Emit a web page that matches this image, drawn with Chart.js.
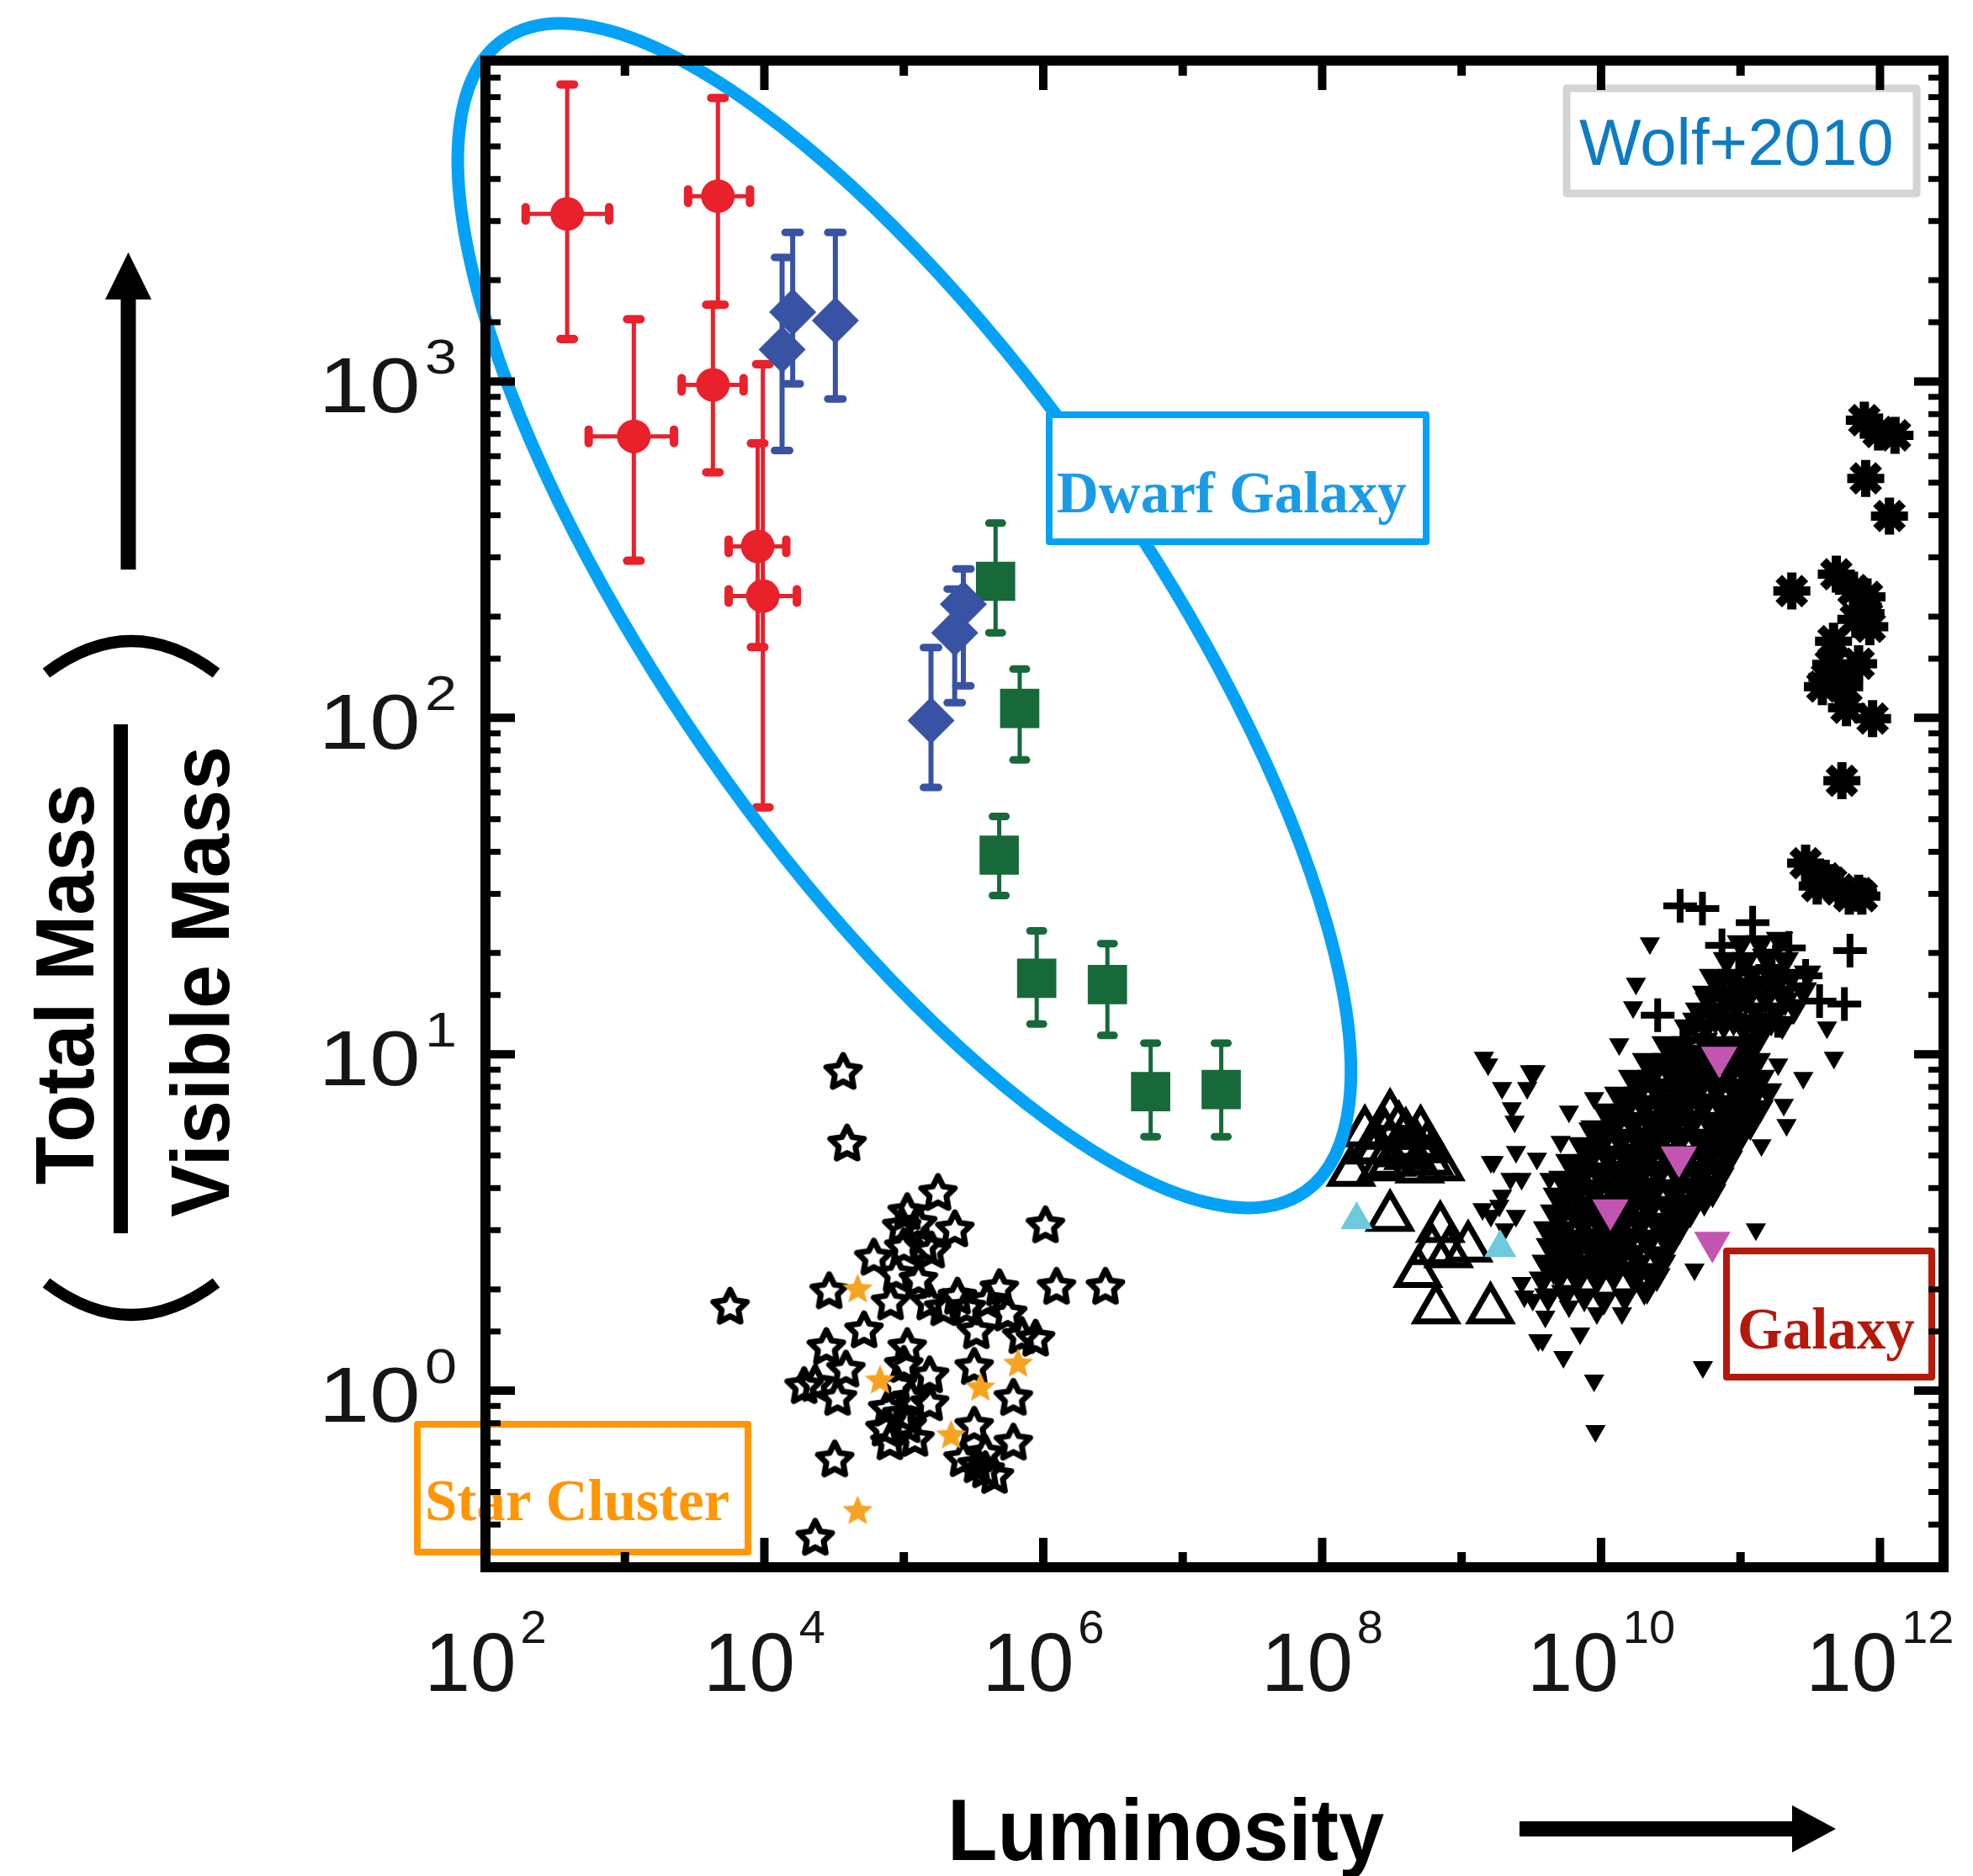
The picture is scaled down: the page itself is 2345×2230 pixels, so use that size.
<!DOCTYPE html>
<html>
<head>
<meta charset="utf-8">
<title>Total / visible mass vs luminosity</title>
<script src="https://cdn.jsdelivr.net/npm/chart.js@4.4.1/dist/chart.umd.min.js"></script>
<style>
  html, body { margin: 0; padding: 0; background: #fff; }
  #wrap { width: 2345px; height: 2230px; position: relative; }
</style>
</head>
<body>
<div id="wrap"><canvas id="massChart"></canvas></div>
<script>
// every value below is log10: [log L, log(M_total / M_visible)]
const xTickExps = [2, 4, 6, 8, 10, 12];
const xMinorExps = [3, 5, 7, 9, 11];
const yTickExps = [0, 1, 2, 3];
const xRangeExp = [2, 12.456];
const yRangeExp = [-0.525, 3.954];

// ultra-faint dwarfs: [logL, logR, logR lo, logR hi, logL lo, logL hi]
const redDwarfs = [
  [2.586, 3.498, 3.126, 3.883, 2.288, 2.887],
  [3.667, 3.551, 3.228, 3.843, 3.453, 3.897],
  [3.064, 2.837, 2.467, 3.185, 2.740, 3.352],
  [3.631, 2.990, 2.730, 3.228, 3.407, 3.851],
  [3.952, 2.510, 2.210, 2.816, 3.744, 4.157],
  [3.989, 2.362, 1.734, 3.051, 3.744, 4.233]
];
// [logL, logR, logR lo, logR hi]
const blueDwarfs = [
  [4.203, 3.206, 2.993, 3.443],
  [4.127, 3.095, 2.795, 3.369],
  [4.509, 3.181, 2.948, 3.443],
  [5.427, 2.338, 2.095, 2.443],
  [5.365, 2.253, 2.045, 2.383],
  [5.195, 1.992, 1.793, 2.209]
];
const greenDwarfs = [
  [5.658, 2.406, 2.253, 2.579],
  [5.831, 2.028, 1.875, 2.145],
  [5.684, 1.592, 1.472, 1.707],
  [5.953, 1.226, 1.090, 1.367],
  [6.460, 1.207, 1.056, 1.329],
  [6.770, 0.889, 0.755, 1.033],
  [7.276, 0.895, 0.755, 1.033]
];

const clusterStars = [
  [5.245, 0.591], [6.016, 0.495], [3.754, 0.253], [6.095, 0.312], [6.446, 0.312], [5.366, 0.483],
  [4.985, 0.491], [4.945, 0.349], [4.785, 0.399], [4.465, 0.299], [4.905, 0.266], [5.185, 0.266],
  [5.385, 0.283], [5.685, 0.308], [5.745, 0.233], [4.715, 0.183], [4.445, 0.133], [5.945, 0.158],
  [4.365, 0.024], [4.525, -0.018], [4.585, 0.066], [5.025, 0.133], [5.185, 0.049], [4.985, -0.068],
  [4.865, -0.109], [5.185, -0.034], [5.505, 0.074], [5.786, -0.018], [5.786, -0.151], [5.505, -0.101],
  [5.525, -0.218], [4.505, -0.201], [4.365, -0.434], [5.846, 0.166], [5.105, 0.333], [5.285, 0.249],
  [5.585, -0.184], [4.565, 0.951], [4.593, 0.738], [5.025, -0.099], [4.885, -0.050], [5.025, 0.534],
  [5.145, 0.434], [4.285, 0.017], [5.585, -0.233], [5.425, -0.200],
  [4.950, 0.020], [5.050, -0.020], [4.900, -0.150], [5.080, -0.140], [5.000, 0.080], [5.100, 0.500],
  [5.200, 0.420], [5.000, 0.430], [5.450, 0.250], [5.600, 0.270], [5.520, 0.180], [5.650, -0.250]
];
const clusterStarsOrange = [
  [4.669, 0.305], [4.829, 0.034], [5.549, 0.013], [5.819, 0.084], [5.339, -0.129], [4.669, -0.354]
];

const openTriangles = [
  [8.487, 0.816], [8.347, 0.716], [8.207, 0.650], [8.567, 0.708], [8.767, 0.683], [8.667, 0.733],
  [8.427, 0.666], [8.847, 0.666], [8.487, 0.516], [8.847, 0.483], [9.047, 0.425], [8.787, 0.417],
  [8.687, 0.349], [8.817, 0.241], [9.207, 0.241], [8.907, 0.408], [8.306, 0.767], [8.706, 0.767],
  [8.550, 0.780], [8.620, 0.700], [8.400, 0.720], [8.750, 0.720], [8.500, 0.680], [8.700, 0.660],
  [8.600, 0.760], [8.450, 0.760]
];
const cyanTriangles = [[8.247, 0.508], [9.277, 0.425]];
const magentaTriangles = [[10.847, 0.991], [10.558, 0.695], [10.067, 0.537], [10.798, 0.441]];

const crossPts = [
  [10.567, 1.441], [10.727, 1.433], [11.785, 1.308], [11.745, 1.149], [10.406, 1.116], [11.087, 1.391],
  [10.867, 1.324], [11.267, 1.099], [11.227, 1.258], [11.467, 1.233], [10.587, 1.041], [10.987, 1.241],
  [11.347, 1.316], [11.567, 1.158]
];
const asteriskPts = [
  [11.888, 2.885], [12.108, 2.840], [11.898, 2.712], [12.068, 2.600], [11.368, 2.377], [11.687, 2.427],
  [11.907, 2.360], [11.927, 2.271], [11.647, 2.159], [11.747, 2.093], [11.947, 1.998], [11.727, 1.813],
  [11.467, 1.568], [11.707, 1.490], [11.847, 1.479], [11.607, 1.523], [11.827, 2.293], [11.587, 2.093],
  [11.810, 2.380], [11.667, 2.228], [11.847, 2.161], [11.870, 1.470], [11.550, 1.500], [11.780, 1.470],
  [11.650, 1.510], [11.760, 2.030], [11.620, 2.120], [11.900, 2.310], [11.990, 2.850]
];

// galaxies, small filled triangles away from the crowded band
const galaxyOutliers = [
  [9.19, 0.97], [9.29, 0.90], [9.47, 0.90], [9.53, 0.95], [9.38, 0.80], [9.77, 0.83], [9.95, 0.87],
  [9.21, 0.68], [9.39, 0.71], [9.54, 0.69], [9.71, 0.74], [9.35, 0.63], [9.43, 0.63], [9.29, 0.58],
  [9.21, 0.52], [9.39, 0.52], [9.31, 0.48], [9.75, 0.48], [9.43, 0.32], [9.51, 0.27], [9.75, 0.28],
  [9.77, 0.25], [9.97, 0.23], [10.15, 0.23], [9.55, 0.15], [9.85, 0.17], [9.73, 0.10], [9.95, 0.03],
  [10.33, 0.29], [10.67, 0.36], [10.73, 0.07], [9.15, 0.54], [9.27, 0.55], [9.63, 0.63], [9.91, 0.78],
  [9.96, -0.12], [9.58, 0.15], [9.45, 0.28], [9.60, 0.22], [10.35, 1.33], [10.25, 1.21], [10.23, 1.14],
  [10.13, 1.03], [9.51, 0.94], [11.67, 0.99], [11.62, 1.08], [11.27, 0.97], [11.45, 0.93], [11.31, 0.85],
  [11.33, 0.79], [11.15, 0.73], [11.11, 0.48], [11.13, 1.06], [9.16, 0.99], [9.49, 0.95], [9.36, 0.84],
  [9.23, 0.68]
];
// the same kind of galaxies where they pile up into a solid band
const galaxyCore = [
  [9.62, 0.28], [9.74, 0.29], [9.88, 0.28], [10.02, 0.27], [10.17, 0.28], [10.31, 0.30],
  [9.58, 0.33], [9.70, 0.34], [9.83, 0.33], [9.97, 0.33], [10.09, 0.34], [10.24, 0.33], [10.40, 0.34],
  [9.60, 0.38], [9.73, 0.39], [9.86, 0.38], [10.00, 0.38], [10.13, 0.39], [10.27, 0.38], [10.44, 0.38],
  [9.63, 0.43], [9.76, 0.43], [9.90, 0.44], [10.03, 0.43], [10.18, 0.43], [10.33, 0.44], [10.49, 0.43],
  [9.61, 0.48], [9.74, 0.48], [9.87, 0.49], [10.01, 0.48], [10.14, 0.48], [10.28, 0.49], [10.42, 0.48], [10.56, 0.48],
  [9.66, 0.53], [9.80, 0.53], [9.93, 0.54], [10.06, 0.53], [10.20, 0.53], [10.35, 0.54], [10.50, 0.53], [10.64, 0.53],
  [9.68, 0.58], [9.82, 0.58], [9.96, 0.59], [10.10, 0.58], [10.24, 0.58], [10.38, 0.59], [10.53, 0.58], [10.69, 0.58], [10.80, 0.59],
  [9.72, 0.63], [9.86, 0.63], [10.00, 0.64], [10.13, 0.63], [10.27, 0.63], [10.41, 0.64], [10.56, 0.63], [10.71, 0.63], [10.86, 0.64],
  [9.77, 0.68], [9.91, 0.68], [10.05, 0.69], [10.19, 0.68], [10.33, 0.68], [10.47, 0.69], [10.61, 0.68], [10.76, 0.68], [10.92, 0.69],
  [9.86, 0.73], [10.00, 0.73], [10.14, 0.74], [10.28, 0.73], [10.42, 0.73], [10.56, 0.74], [10.71, 0.73], [10.85, 0.73], [10.98, 0.74],
  [9.95, 0.78], [10.09, 0.78], [10.23, 0.79], [10.37, 0.78], [10.51, 0.78], [10.65, 0.79], [10.80, 0.78], [10.94, 0.78], [11.07, 0.79],
  [10.03, 0.83], [10.17, 0.83], [10.31, 0.84], [10.45, 0.83], [10.59, 0.83], [10.73, 0.84], [10.88, 0.83], [11.02, 0.83], [11.14, 0.84],
  [10.12, 0.88], [10.26, 0.88], [10.40, 0.89], [10.54, 0.88], [10.68, 0.88], [10.83, 0.89], [10.97, 0.88], [11.10, 0.88], [11.20, 0.89],
  [10.22, 0.93], [10.36, 0.93], [10.50, 0.94], [10.64, 0.93], [10.78, 0.93], [10.92, 0.94], [11.05, 0.93], [11.15, 0.93],
  [10.32, 0.98], [10.46, 0.98], [10.60, 0.99], [10.74, 0.98], [10.88, 0.98], [11.01, 0.99], [11.12, 0.98],
  [10.46, 1.03], [10.60, 1.03], [10.74, 1.04], [10.87, 1.03], [11.00, 1.03], [11.12, 1.04],
  [10.62, 1.08], [10.75, 1.08], [10.88, 1.09], [11.02, 1.08], [11.16, 1.08], [11.30, 1.09],
  [10.70, 1.13], [10.83, 1.13], [10.97, 1.14], [11.11, 1.13], [11.25, 1.13], [11.39, 1.14],
  [10.75, 1.18], [10.89, 1.18], [11.03, 1.19], [11.17, 1.18], [11.31, 1.18], [11.45, 1.19],
  [10.80, 1.23], [10.94, 1.23], [11.08, 1.24], [11.22, 1.23], [11.36, 1.23], [11.48, 1.24],
  [10.90, 1.28], [11.04, 1.28], [11.18, 1.29], [11.32, 1.28], [11.00, 1.33], [11.14, 1.33], [11.28, 1.34],
  [9.66, 0.36], [9.80, 0.355], [9.93, 0.36], [10.07, 0.365], [10.20, 0.36], [10.34, 0.355],
  [9.67, 0.41], [9.81, 0.405], [9.95, 0.41], [10.10, 0.415], [10.24, 0.41], [10.40, 0.405],
  [9.68, 0.46], [9.82, 0.455], [9.95, 0.46], [10.08, 0.465], [10.22, 0.46], [10.36, 0.455], [10.50, 0.46],
  [9.70, 0.51], [9.86, 0.505], [10.00, 0.51], [10.13, 0.515], [10.28, 0.51], [10.43, 0.505], [10.58, 0.51],
  [9.73, 0.56], [9.88, 0.555], [10.03, 0.56], [10.17, 0.565], [10.31, 0.56], [10.46, 0.555], [10.61, 0.56], [10.74, 0.565],
  [9.78, 0.61], [9.92, 0.605], [10.06, 0.61], [10.20, 0.615], [10.34, 0.61], [10.49, 0.605], [10.64, 0.61], [10.79, 0.615],
  [9.83, 0.66], [9.97, 0.655], [10.12, 0.66], [10.26, 0.665], [10.40, 0.66], [10.54, 0.655], [10.69, 0.66], [10.84, 0.665],
  [9.92, 0.71], [10.07, 0.705], [10.21, 0.71], [10.35, 0.715], [10.49, 0.71], [10.64, 0.705], [10.78, 0.71], [10.92, 0.715],
  [10.02, 0.76], [10.16, 0.755], [10.30, 0.76], [10.44, 0.765], [10.58, 0.76], [10.72, 0.755], [10.87, 0.76], [11.01, 0.765],
  [10.10, 0.81], [10.24, 0.805], [10.38, 0.81], [10.52, 0.815], [10.66, 0.81], [10.80, 0.805], [10.95, 0.81], [11.08, 0.815],
  [10.19, 0.86], [10.33, 0.855], [10.47, 0.86], [10.61, 0.865], [10.76, 0.86], [10.90, 0.855], [11.04, 0.86],
  [10.29, 0.91], [10.43, 0.905], [10.57, 0.91], [10.71, 0.915], [10.85, 0.91], [10.99, 0.905], [11.10, 0.91],
  [10.39, 0.96], [10.53, 0.955], [10.67, 0.96], [10.81, 0.965], [10.95, 0.96], [11.07, 0.955],
  [10.53, 1.01], [10.67, 1.005], [10.81, 1.01], [10.94, 1.015], [11.06, 1.01],
  [10.68, 1.10], [10.82, 1.105], [10.95, 1.10], [11.09, 1.095], [11.22, 1.10],
  [10.77, 1.16], [10.90, 1.155], [11.04, 1.16], [11.18, 1.165], [11.32, 1.16],
  [10.85, 1.21], [10.99, 1.205], [11.13, 1.21], [11.27, 1.215]
];

// ---------------------------------------------------------------
// styling
// ---------------------------------------------------------------
const SANS = '"Liberation Sans", Arial, sans-serif';
const SERIF = '"Liberation Serif", "Times New Roman", serif';

const ring = { centerExp: [5.004, 2.304], rx: 834, ry: 286, angle: 55.2, width: 15, color: '#03a2f6' };

const noteBoxes = [
  { text: 'Wolf+2010', box: [1862, 105, 2278, 230], border: '#d4d4d4', lw: 9, font: '78px ' + SANS, color: '#0d7cc3', tx: 1877, ty: 196 },
  { text: 'Dwarf Galaxy', box: [1247, 493, 1695, 644], border: '#03a2f6', lw: 8, font: 'bold 69px ' + SERIF, color: '#1a9be8', tx: 1256, ty: 609 },
  { text: 'Star Cluster', box: [496, 1693, 889, 1845], border: '#ff9602', lw: 8, font: 'bold 69px ' + SERIF, color: '#ff9602', tx: 505, ty: 1807 },
  { text: 'Galaxy', box: [2052, 1487, 2296, 1637], border: '#b4190b', lw: 8, font: 'bold 69px ' + SERIF, color: '#b4190b', tx: 2065, ty: 1603 }
];

function toPoints(arr) {
  return arr.map(p => ({ x: 10 ** p[0], y: 10 ** p[1] }));
}

// five-pointed star drawn on its own little canvas, used as a point style
function starSprite(r, inner, lw, stroke, fill) {
  const size = Math.ceil(2 * r + 2 * lw);
  const c = document.createElement('canvas');
  c.width = size;
  c.height = size;
  const g = c.getContext('2d');
  g.translate(size / 2, size / 2 + r * 0.1);
  g.beginPath();
  for (let i = 0; i < 10; i++) {
    const rr = i % 2 ? r * inner : r;
    const a = -Math.PI / 2 + i * Math.PI / 5;
    g.lineTo(rr * Math.cos(a), rr * Math.sin(a));
  }
  g.closePath();
  if (fill) { g.fillStyle = fill; g.fill(); }
  if (stroke) { g.lineJoin = 'round'; g.lineWidth = lw; g.strokeStyle = stroke; g.stroke(); }
  return c;
}

const openStar = starSprite(21, 0.5, 7, '#000', null);
const orangeStar = starSprite(19, 0.45, 0, null, '#f6a321');

// ---------------------------------------------------------------
// error bars go under the markers
// ---------------------------------------------------------------
const errorBars = {
  id: 'errorBars',
  beforeDatasetsDraw(chart) {
    const { ctx, scales: { x, y } } = chart;
    const px = v => x.getPixelForValue(10 ** v);
    const py = v => y.getPixelForValue(10 ** v);

    function vBar(xv, lo, hi, color, lw, cap, capW) {
      const X = px(xv), Y1 = py(lo), Y2 = py(hi);
      ctx.strokeStyle = color;
      ctx.lineWidth = lw;
      ctx.lineCap = 'butt';
      ctx.beginPath(); ctx.moveTo(X, Y1); ctx.lineTo(X, Y2); ctx.stroke();
      ctx.lineWidth = capW;
      ctx.lineCap = 'round';
      ctx.beginPath();
      ctx.moveTo(X - cap / 2, Y1); ctx.lineTo(X + cap / 2, Y1);
      ctx.moveTo(X - cap / 2, Y2); ctx.lineTo(X + cap / 2, Y2);
      ctx.stroke();
    }
    function hBar(yv, lo, hi, color, lw, cap, capW) {
      const Y = py(yv), X1 = px(lo), X2 = px(hi);
      ctx.strokeStyle = color;
      ctx.lineWidth = lw;
      ctx.lineCap = 'butt';
      ctx.beginPath(); ctx.moveTo(X1, Y); ctx.lineTo(X2, Y); ctx.stroke();
      ctx.lineWidth = capW;
      ctx.lineCap = 'round';
      ctx.beginPath();
      ctx.moveTo(X1, Y - cap / 2); ctx.lineTo(X1, Y + cap / 2);
      ctx.moveTo(X2, Y - cap / 2); ctx.lineTo(X2, Y + cap / 2);
      ctx.stroke();
    }

    ctx.save();
    redDwarfs.forEach(d => {
      vBar(d[0], d[2], d[3], '#e8212b', 5, 16, 10);
      hBar(d[1], d[4], d[5], '#e8212b', 5, 16, 10);
    });
    blueDwarfs.forEach(d => vBar(d[0], d[2], d[3], '#3853a4', 6, 18, 9));
    greenDwarfs.forEach(d => vBar(d[0], d[2], d[3], '#17693a', 5, 16, 9));
    ctx.restore();
  }
};

// ---------------------------------------------------------------
// frame, ticks, labels and annotations
// ---------------------------------------------------------------
function drawPower(ctx, exp, x, baseline, align, size, supSize, supRise, stretch) {
  ctx.save();
  ctx.translate(x, baseline);
  ctx.scale(stretch, 1);
  ctx.font = size + 'px ' + SANS;
  const bw = ctx.measureText('10').width;
  ctx.font = supSize + 'px ' + SANS;
  const sw = ctx.measureText(String(exp)).width;
  const gap = size * 0.05;
  const total = bw + gap + sw;
  const left = align === 'center' ? -total / 2 : -total;
  ctx.textAlign = 'left';
  ctx.textBaseline = 'alphabetic';
  ctx.font = size + 'px ' + SANS;
  ctx.fillText('10', left, 0);
  ctx.font = supSize + 'px ' + SANS;
  ctx.fillText(String(exp), left + bw + gap, -supRise);
  ctx.restore();
}

const decor = {
  id: 'decor',
  afterDatasetsDraw(chart) {
    const { ctx, scales: { x, y } } = chart;

    // ellipse around the dwarf galaxies
    ctx.save();
    const cx = x.getPixelForValue(10 ** ring.centerExp[0]);
    const cy = y.getPixelForValue(10 ** ring.centerExp[1]);
    ctx.strokeStyle = ring.color;
    ctx.lineWidth = ring.width;
    ctx.beginPath();
    ctx.ellipse(cx, cy, ring.rx, ring.ry, ring.angle * Math.PI / 180, 0, Math.PI * 2);
    ctx.stroke();
    ctx.restore();

    // labelled boxes
    noteBoxes.forEach(n => {
      const [x1, y1, x2, y2] = n.box;
      ctx.save();
      ctx.fillStyle = '#fff';
      ctx.fillRect(x1, y1, x2 - x1, y2 - y1);
      ctx.strokeStyle = n.border;
      ctx.lineWidth = n.lw;
      ctx.lineJoin = 'round';
      ctx.strokeRect(x1, y1, x2 - x1, y2 - y1);
      ctx.fillStyle = n.color;
      ctx.font = n.font;
      ctx.textAlign = 'left';
      ctx.textBaseline = 'alphabetic';
      ctx.fillText(n.text, n.tx, n.ty);
      ctx.restore();
    });
  },
  afterDraw(chart) {
    const { ctx, chartArea: a, scales: { x, y } } = chart;
    ctx.save();

    // frame
    ctx.strokeStyle = '#000';
    ctx.lineWidth = 12;
    ctx.strokeRect(a.left, a.top, a.right - a.left, a.bottom - a.top);

    // inward ticks
    ctx.lineWidth = 10;
    ctx.lineCap = 'butt';
    ctx.beginPath();
    xTickExps.forEach(e => {
      const X = x.getPixelForValue(10 ** e);
      ctx.moveTo(X, a.bottom); ctx.lineTo(X, a.bottom - 35);
      ctx.moveTo(X, a.top); ctx.lineTo(X, a.top + 35);
    });
    xMinorExps.forEach(e => {
      const X = x.getPixelForValue(10 ** e);
      ctx.moveTo(X, a.bottom); ctx.lineTo(X, a.bottom - 18);
      ctx.moveTo(X, a.top); ctx.lineTo(X, a.top + 18);
    });
    yTickExps.forEach(e => {
      const Y = y.getPixelForValue(10 ** e);
      ctx.moveTo(a.left, Y); ctx.lineTo(a.left + 35, Y);
      ctx.moveTo(a.right, Y); ctx.lineTo(a.right - 35, Y);
    });
    ctx.stroke();
    ctx.lineWidth = 7;
    ctx.beginPath();
    y.ticks.forEach(t => {
      const v = t.value;
      const e = Math.log10(v);
      if (Math.abs(e - Math.round(e)) < 1e-6) return;
      const Y = y.getPixelForValue(v);
      if (Y < a.top + 8 || Y > a.bottom - 8) return;
      ctx.moveTo(a.left, Y); ctx.lineTo(a.left + 18, Y);
      ctx.moveTo(a.right, Y); ctx.lineTo(a.right - 18, Y);
    });
    ctx.stroke();

    // tick labels
    ctx.fillStyle = '#161616';
    xTickExps.forEach(e => {
      drawPower(ctx, e, x.getPixelForValue(10 ** e), a.bottom + 147, 'center', 98, 56, 57, 1);
    });
    yTickExps.forEach(e => {
      drawPower(ctx, e, a.left - 34, y.getPixelForValue(10 ** e) + 37, 'right', 92, 58, 46, 1.18);
    });

    // x title with arrow
    ctx.fillStyle = '#000';
    ctx.save();
    ctx.translate(1126, 2211);
    ctx.scale(0.945, 1);
    ctx.font = 'bold 103px ' + SANS;
    ctx.textAlign = 'left';
    ctx.fillText('Luminosity', 0, 0);
    ctx.restore();
    ctx.fillRect(1806, 2165, 326, 18);
    ctx.beginPath();
    ctx.moveTo(2130, 2146); ctx.lineTo(2182, 2174); ctx.lineTo(2130, 2202);
    ctx.closePath(); ctx.fill();

    // y title: ( Total Mass / Visible Mass ) with arrow
    ctx.fillRect(143.5, 353, 18, 324);
    ctx.beginPath();
    ctx.moveTo(125, 356); ctx.lineTo(152.5, 300); ctx.lineTo(180, 356);
    ctx.closePath(); ctx.fill();

    [['Total Mass', 111, 1170], ['Visible Mass', 272, 1167]].forEach(([t, bx, by]) => {
      ctx.save();
      ctx.translate(bx, by);
      ctx.rotate(-Math.PI / 2);
      ctx.scale(0.945, 1);
      ctx.font = 'bold 99px ' + SANS;
      ctx.textAlign = 'center';
      ctx.textBaseline = 'alphabetic';
      ctx.fillText(t, 0, 0);
      ctx.restore();
    });
    ctx.fillRect(135, 861, 17, 605);

    ctx.strokeStyle = '#000';
    ctx.lineWidth = 14;
    ctx.beginPath();
    ctx.moveTo(55, 800); ctx.quadraticCurveTo(156, 724, 257, 800);
    ctx.moveTo(55, 1525); ctx.quadraticCurveTo(156, 1601, 257, 1525);
    ctx.stroke();

    ctx.restore();
  }
};

// ---------------------------------------------------------------
// chart
// ---------------------------------------------------------------
const ctx = document.getElementById('massChart').getContext('2d');
const massChart = new Chart(ctx, {
  type: 'scatter',
  data: {
    datasets: [
      {
        label: 'Dwarf (faint)',
        data: toPoints(redDwarfs),
        pointStyle: 'circle', pointRadius: 20,
        backgroundColor: '#e8212b', borderWidth: 0
      },
      {
        label: 'Dwarf (classical)',
        data: toPoints(blueDwarfs),
        pointStyle: 'rectRot', pointRadius: 28,
        backgroundColor: '#3853a4', borderWidth: 0
      },
      {
        label: 'Dwarf (bright)',
        data: toPoints(greenDwarfs),
        pointStyle: 'rect', pointRadius: 33,
        backgroundColor: '#17693a', borderWidth: 0
      },
      {
        label: 'Cluster (filled)',
        data: toPoints(clusterStarsOrange),
        pointStyle: orangeStar, pointRadius: 10
      },
      {
        label: 'Cluster (open)',
        data: toPoints(clusterStars),
        pointStyle: openStar, pointRadius: 10
      },
      {
        label: 'Magenta',
        data: toPoints(magentaTriangles),
        pointStyle: 'triangle', rotation: 180, pointRadius: 25,
        backgroundColor: '#c155b1', borderWidth: 0
      },
      {
        label: 'Cyan',
        data: toPoints(cyanTriangles),
        pointStyle: 'triangle', pointRadius: 22,
        backgroundColor: '#6ccadb', borderWidth: 0
      },
      {
        label: 'Crosses',
        data: toPoints(crossPts),
        pointStyle: 'cross', pointRadius: 20,
        borderColor: '#000', borderWidth: 8
      },
      {
        label: 'Asterisks',
        data: toPoints(asteriskPts),
        pointStyle: 'star', pointRadius: 22,
        borderColor: '#000', borderWidth: 11
      },
      {
        label: 'Open triangles',
        data: toPoints(openTriangles),
        pointStyle: 'triangle', pointRadius: 28,
        backgroundColor: 'rgba(0,0,0,0)', borderColor: '#000', borderWidth: 7
      },
      {
        label: 'Galaxies',
        data: toPoints(galaxyOutliers),
        pointStyle: 'triangle', rotation: 180, pointRadius: 10,
        backgroundColor: '#000', borderColor: '#000', borderWidth: 4
      },
      {
        label: 'Galaxies (crowded)',
        data: toPoints(galaxyCore),
        pointStyle: 'triangle', rotation: 180, pointRadius: 11,
        backgroundColor: '#000', borderColor: '#000', borderWidth: 8
      }
    ]
  },
  options: {
    responsive: true,
    maintainAspectRatio: false,
    animation: false,
    events: [],
    layout: {
      padding: { left: 577, right: 27, top: 72, bottom: 367 }
    },
    plugins: {
      legend: { display: false },
      tooltip: { enabled: false }
    },
    scales: {
      x: {
        type: 'logarithmic',
        min: 10 ** xRangeExp[0],
        max: 10 ** xRangeExp[1],
        display: false
      },
      y: {
        type: 'logarithmic',
        min: 10 ** yRangeExp[0],
        max: 10 ** yRangeExp[1],
        display: false
      }
    }
  },
  plugins: [errorBars, decor]
});
</script>
</body>
</html>
